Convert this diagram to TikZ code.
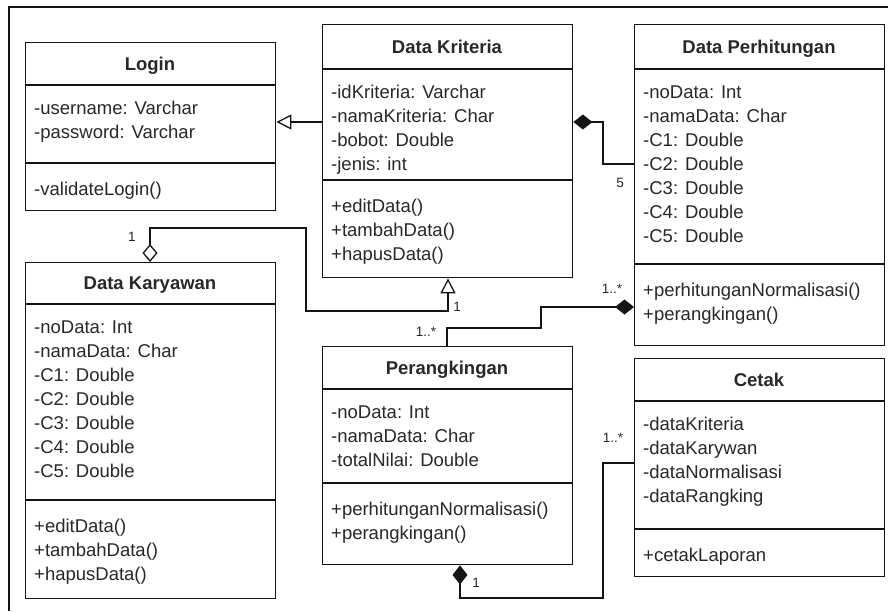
\documentclass[tikz,border=0pt]{standalone}
\usepackage{fontspec}
\setmainfont{Liberation Sans}
\usetikzlibrary{arrows.meta}

\definecolor{boxcol}{RGB}{20,20,20}
\definecolor{txtcol}{RGB}{40,40,40}

\tikzset{
  classbox/.style={draw=boxcol, line width=1.4pt, fill=white, inner sep=0pt,
    minimum width=250pt, anchor=north west},
  partline/.style={draw=boxcol, line width=1.4pt},
  titletext/.style={font=\bfseries\fontsize{18.5}{24}\selectfont, text=txtcol,
    inner sep=0pt, anchor=base},
  membertext/.style={font=\fontsize{18.5}{24}\selectfont, text=txtcol,
    inner sep=0pt, anchor=base west},
  multtext/.style={font=\fontsize{13.5}{16}\selectfont, text=txtcol, inner sep=0pt},
  link/.style={draw=boxcol, line width=1.3pt},
  generalise/.style={link, -{Triangle[length=15pt, width=15pt, fill=white]}},
  composite end/.style={link, -{Diamond[length=19pt, width=15pt]}},
  composite start/.style={link, {Diamond[length=19pt, width=15pt]}-},
  shared/.style={link, {Triangle[length=15pt, width=15pt, fill=white]}-{Diamond[length=18pt, width=15pt, fill=white]}},
}

% #1 name, #2 left x, #3 top y, #4 header rule y, #5 member rule y, #6 bottom y,
% #7 class name, #8 attributes, #9 operations
\newcommand\umlclass[9]{%
  \node[classbox, minimum height={(#6-#3)*1pt}] (#1) at (#2,#3) {};
  \draw[partline] (#2,#4) -- ++(250,0);
  \draw[partline] (#2,#5) -- ++(250,0);
  \node[titletext] (#1-title) at ({#2+125},{(#3+#4)/2+6.6}) {#7};
  \foreach \txt [count=\k] in {#8} {
    \node[membertext] (#1-attr-\k) at ({#2+9},{#4+29+24*(\k-1)}) {\txt};
  }
  \foreach \txt [count=\k] in {#9} {
    \node[membertext] (#1-op-\k) at ({#2+9},{#5+32+24*(\k-1)}) {\txt};
  }
}

\begin{document}
\begin{tikzpicture}[x=1pt, y=-1pt]
\useasboundingbox (0,0) rectangle (888,611);

% frame
\draw[boxcol, line width=2pt] (9,611) -- (9,7) -- (888,7);

\umlclass{login}{25}{42}{85}{163}{210}{Login}
  {-username: Varchar,-password: Varchar}
  {-validateLogin()}
\umlclass{kriteria}{322}{24}{69}{180}{277}{Data Kriteria}
  {-idKriteria: Varchar,-namaKriteria: Char,-bobot: Double,-jenis: int}
  {+editData(),+tambahData(),+hapusData()}
\umlclass{perhit}{634}{24}{69}{264}{345}{Data Perhitungan}
  {-noData: Int,-namaData: Char,-C1: Double,-C2: Double,-C3: Double,-C4: Double,-C5: Double}
  {+perhitunganNormalisasi(),+perangkingan()}
\umlclass{karyawan}{25}{262}{304}{500}{598}{Data Karyawan}
  {-noData: Int,-namaData: Char,-C1: Double,-C2: Double,-C3: Double,-C4: Double,-C5: Double}
  {+editData(),+tambahData(),+hapusData()}
\umlclass{rank}{322}{346}{389}{483}{564}{Perangkingan}
  {-noData: Int,-namaData: Char,-totalNilai: Double}
  {+perhitunganNormalisasi(),+perangkingan()}
\umlclass{cetak}{634}{358}{401}{529}{576}{Cetak}
  {-dataKriteria,-dataKarywan,-dataNormalisasi,-dataRangking}
  {+cetakLaporan}

% Data Kriteria generalises to Login
\draw[generalise] (kriteria.west |- 0,122) -- (login.east |- 0,122);

% Data Perhitungan is part of Data Kriteria
\draw[composite end] (perhit.west |- 0,164) -| (603,122) -- (kriteria.east |- 0,122);
\node[multtext] (m-five) at (620,183) {5};

% Data Karyawan aggregation into Data Kriteria
\draw[shared] (448,0 |- kriteria.south) -- (448,311) -| (306,228) -| (150,0 |- karyawan.north);
\node[multtext] (m-kar) at (132,237) {1};
\node[multtext] (m-kri) at (457,307) {1};

% Perangkingan to Data Perhitungan
\draw[composite end] (447,0 |- rank.north) |- (541,328) |- (perhit.west |- 0,307);
\node[multtext] (m-rank-top) at (426,332) {1..*};
\node[multtext] (m-perhit) at (612,289) {1..*};

% Cetak to Perangkingan
\draw[composite start] (460,0 |- rank.south) |- (603,598) |- (cetak.west |- 0,463);
\node[multtext] (m-rank-bot) at (476,583) {1};
\node[multtext] (m-cetak) at (613,438) {1..*};
\end{tikzpicture}
\end{document}
